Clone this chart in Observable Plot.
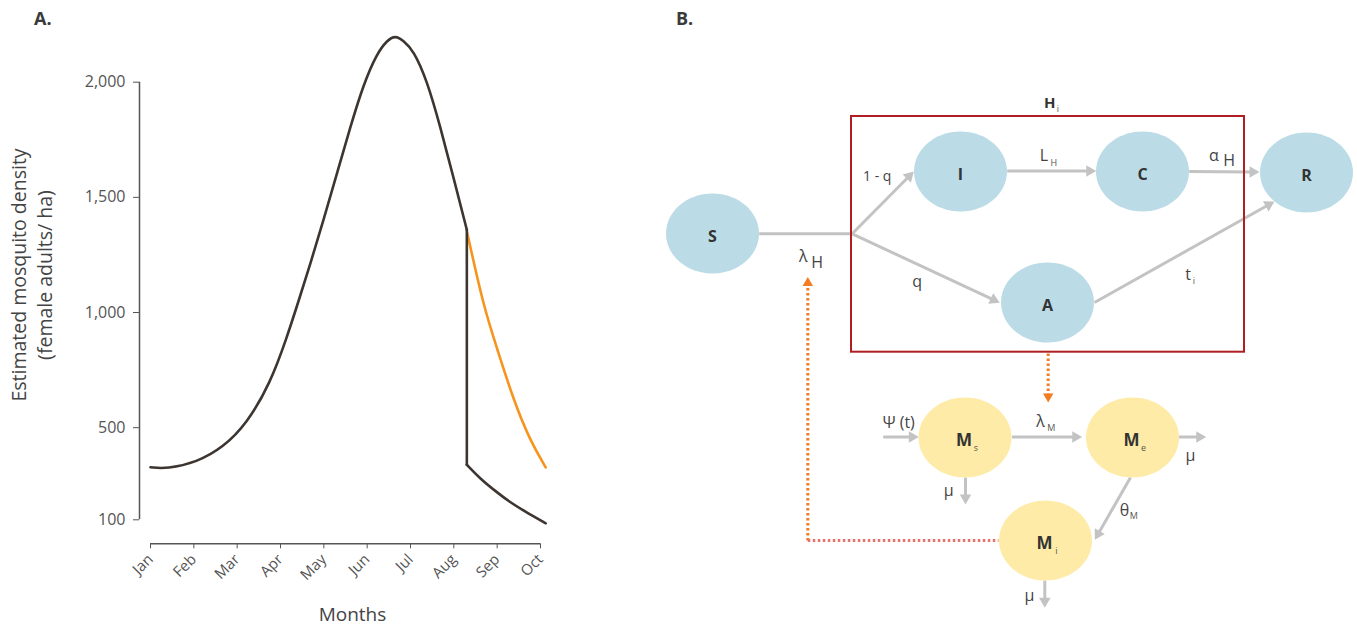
<!DOCTYPE html>
<html><head><meta charset="utf-8">
<script src="https://cdn.jsdelivr.net/npm/d3@7"></script>
<script src="https://cdn.jsdelivr.net/npm/@observablehq/plot@0.6"></script>
<style>
body{margin:0;background:#fff;}
#wrap{position:relative;width:1357px;height:633px;font-family:"Open Sans",sans-serif;overflow:hidden;}
#a,#b{position:absolute;top:0;}
#a{left:0;} #b{left:560px;}
.panel{position:absolute;font-weight:700;font-size:18px;color:#3a3a3a;line-height:20px;}
</style></head><body>
<div id="wrap">
<div id="a"></div><div id="b"></div>
<div class="panel" style="left:34px;top:8px">A.</div>
<div class="panel" style="left:676px;top:8px">B.</div>
</div>
<script>
// ---------- Panel A data ----------
const monthLabels = ["Jan","Feb","Mar","Apr","May","Jun","Jul","Aug","Sep","Oct"];
const yTicks = [100, 500, 1000, 1500, 2000];
const yTitle = ["Estimated mosquito density", "(female adults/ ha)"];
const xTitle = "Months";
// seasonal rise (month index from Jan = 0)
const riseMonth   = [0, 0.38, 1.07, 1.68, 2.22, 2.76, 3.15, 3.42, 3.69, 3.99, 4.30, 4.61, 4.92, 5.22, 5.46, 5.65, 5.84, 6.07, 6.38, 6.69, 6.99, 7.30];
const riseDensity = [328, 321, 350, 415, 517, 691, 893, 1052, 1212, 1400, 1602, 1805, 1993, 2123, 2182, 2203, 2180, 2138, 2008, 1805, 1588, 1359];
// intervention: sudden drop then decay
const dropMonth   = [7.30, 7.30];
const dropDensity = [1359, 339];
const decayMonth   = [7.30, 7.61, 7.99, 8.30, 8.61, 9.12];
const decayDensity = [339, 278, 220, 176, 140, 85];
// without intervention
const noControlMonth   = [7.31, 7.69, 7.99, 8.38, 8.76, 9.12];
const noControlDensity = [1345, 1023, 849, 618, 444, 328];

const blackRows = [
  ...riseMonth.map((m, i) => ({m, v: riseDensity[i], seg: "rise"})),
  ...dropMonth.map((m, i) => ({m, v: dropDensity[i], seg: "drop"})),
  ...decayMonth.map((m, i) => ({m, v: decayDensity[i], seg: "decay"}))
];
const orangeRows = noControlMonth.map((m, i) => ({m, v: noControlDensity[i]}));

const font = '"Open Sans", sans-serif';

const plotA = Plot.plot({
  width: 560, height: 633,
  marginLeft: 150, marginRight: 20, marginTop: 81.7, marginBottom: 113.7,
  style: {fontFamily: font, fontSize: "15px", color: "#555", background: "transparent", overflow: "visible"},
  x: {domain: [0, 9]},
  y: {domain: [100, 2000]},
  marks: [
    Plot.ruleX([0], {y1: 100, y2: 2000, dx: -11, stroke: "#555", strokeWidth: 1.5}),
    Plot.axisY({ticks: yTicks, tickFormat: d3.format(","), tickSize: 6, tickPadding: 8, dx: -11, label: null, color: "#555", fontSize: 16}),
    Plot.ruleY([100], {x1: 0, x2: 9, dy: 24, stroke: "#555", strokeWidth: 1.5}),
    Plot.axisX({ticks: d3.range(10), tickFormat: i => monthLabels[i], tickRotate: -45, tickSize: 5, tickPadding: 8, dy: 24, label: null, color: "#555", fontSize: 15}),
    Plot.text([yTitle[0]], {text: d => d, frameAnchor: "left", textAnchor: "middle", dx: -131, dy: -26, rotate: -90, fontSize: 19.5, fill: "#444"}),
    Plot.text([yTitle[1]], {text: d => d, frameAnchor: "left", textAnchor: "middle", dx: -105, dy: -26, rotate: -90, fontSize: 19.5, fill: "#444"}),
    Plot.text([xTitle], {text: d => d, frameAnchor: "bottom", dx: 7, dy: 101, fontSize: 19, fill: "#444"}),
    Plot.line(orangeRows, {x: "m", y: "v", stroke: "#f7941d", strokeWidth: 2.6, curve: "basis"}),
    Plot.line(blackRows, {x: "m", y: "v", z: "seg", stroke: "#3d3530", strokeWidth: 2.6, curve: "basis"})
  ]
});
document.getElementById("a").append(plotA);

// ---------- Panel B data (diagram layout units) ----------
const hostNodes = [
  {label: "S", x: 712, y: 233},
  {label: "I", x: 960, y: 171},
  {label: "C", x: 1142, y: 171},
  {label: "R", x: 1306, y: 172},
  {label: "A", x: 1047, y: 302}
];
const mosquitoNodes = [
  {label: "M", sub: "s", x: 964.5, y: 437},
  {label: "M", sub: "e", x: 1132, y: 437},
  {label: "M", sub: "i", x: 1045, y: 540}
];
const humanBox = [{x1: 851, x2: 1244, y1: 116, y2: 351.7}];
const plainLinks = [{x1: 758.7, y1: 233.3, x2: 851.7, y2: 233.3}];
const flowArrows = [
  {x1: 851.7, y1: 233.3, x2: 913.3, y2: 171},
  {x1: 851.7, y1: 233.3, x2: 999.3, y2: 302.3},
  {x1: 1006.7, y1: 170.5, x2: 1095.7, y2: 170.5},
  {x1: 1188.7, y1: 171, x2: 1259, y2: 171.5},
  {x1: 1094, y1: 302, x2: 1274, y2: 201},
  {x1: 882.7, y1: 436.5, x2: 918.3, y2: 436.5},
  {x1: 1011.5, y1: 436.5, x2: 1081.7, y2: 436.5},
  {x1: 1178.3, y1: 436.5, x2: 1205.7, y2: 436.5},
  {x1: 965, y1: 477, x2: 965, y2: 504},
  {x1: 1130, y1: 477, x2: 1094.3, y2: 539.3},
  {x1: 1044.3, y1: 580, x2: 1044.3, y2: 607.3}
];
const orangeDotted = [
  {x1: 807.3, y1: 540, x2: 807.3, y2: 284},
  {x1: 1047.7, y1: 353, x2: 1047.7, y2: 394}
];
const redDotted = [{x1: 807.3, y1: 540, x2: 998, y2: 540}];
const dottedHeads = [
  {x: 807.3, y: 282.5, rot: 0},
  {x: 1047.7, y: 396, rot: 180}
];
const edgeLabels = [
  {text: "1 - q", x: 876.7, y: 176, kind: "edge"},
  {text: "q", x: 916.7, y: 281, kind: "edgeL"},
  {text: "L", x: 1043.3, y: 155, kind: "edgeL"},
  {text: "H", x: 1053.3, y: 162.5, kind: "sub"},
  {text: "α", x: 1213.3, y: 155.5, kind: "edgeL"},
  {text: "H", x: 1228.7, y: 160.7, kind: "edgeL"},
  {text: "t", x: 1187.7, y: 274.5, kind: "edgeL"},
  {text: "i", x: 1193.5, y: 280.7, kind: "sub"},
  {text: "λ", x: 802.7, y: 256, kind: "edgeL"},
  {text: "H", x: 816.7, y: 262.7, kind: "edgeL"},
  {text: "Ψ (t)", x: 898.3, y: 422.7, kind: "edgeL"},
  {text: "λ", x: 1040, y: 421.7, kind: "edgeL"},
  {text: "M", x: 1050.7, y: 427.7, kind: "sub"},
  {text: "μ", x: 1190, y: 455, kind: "edgeL"},
  {text: "μ", x: 948.3, y: 490, kind: "edgeL"},
  {text: "μ", x: 1029, y: 595, kind: "edgeL"},
  {text: "θ", x: 1124, y: 510, kind: "edgeL"},
  {text: "M", x: 1133.3, y: 516, kind: "sub"},
  {text: "H", x: 1049.3, y: 102.3, kind: "title"},
  {text: "i", x: 1057.5, y: 108.3, kind: "sub"}
];

// ellipse symbol (width/height ratio of the nodes)
const ellipse = {
  draw(ctx, size) {
    const rx = Math.sqrt(size / Math.PI), ry = rx * 40 / 46.5, k = 0.5523;
    ctx.moveTo(rx, 0);
    ctx.bezierCurveTo(rx, ry * k, rx * k, ry, 0, ry);
    ctx.bezierCurveTo(-rx * k, ry, -rx, ry * k, -rx, 0);
    ctx.bezierCurveTo(-rx, -ry * k, -rx * k, -ry, 0, -ry);
    ctx.bezierCurveTo(rx * k, -ry, rx, -ry * k, rx, 0);
    ctx.closePath();
  }
};

// filled arrow heads: triangle centred just behind each arrow tip
const headR = 5.5, headTip = Math.sqrt(headR * headR * Math.PI) * 0.6824;
const shafts = flowArrows.map(a => {
  const L = Math.hypot(a.x2 - a.x1, a.y2 - a.y1), ux = (a.x2 - a.x1) / L, uy = (a.y2 - a.y1) / L;
  const cx = a.x2 - ux * headTip, cy = a.y2 - uy * headTip;
  return {x1: a.x1, y1: a.y1, x2: cx, y2: cy, hx: cx, hy: cy, rot: Math.atan2(uy, ux) * 180 / Math.PI + 90};
});

const gray = "#c3c3c3";
const plotB = Plot.plot({
  width: 797, height: 633, margin: 0,
  x: {domain: [560, 1357], range: [0, 797], axis: null},
  y: {domain: [0, 633], range: [0, 633], axis: null},
  style: {fontFamily: font, background: "transparent", overflow: "visible"},
  marks: [
    Plot.link(plainLinks, {x1: "x1", y1: "y1", x2: "x2", y2: "y2", stroke: gray, strokeWidth: 3}),
    Plot.link(shafts, {x1: "x1", y1: "y1", x2: "x2", y2: "y2", stroke: gray, strokeWidth: 3}),
    Plot.dot(shafts, {x: "hx", y: "hy", rotate: "rot", symbol: "triangle2", r: headR, fill: gray}),
    Plot.link(orangeDotted, {x1: "x1", y1: "y1", x2: "x2", y2: "y2", stroke: "#f47b20", strokeWidth: 3, strokeDasharray: "2.5,2.5"}),
    Plot.link(redDotted, {x1: "x1", y1: "y1", x2: "x2", y2: "y2", stroke: "#e5736b", strokeWidth: 3, strokeDasharray: "2.5,2.5"}),
    Plot.dot(dottedHeads, {x: "x", y: "y", rotate: "rot", symbol: "triangle2", r: 5, fill: "#f47b20"}),
    Plot.rect(humanBox, {x1: "x1", x2: "x2", y1: "y1", y2: "y2", fill: "none", stroke: "#b01e24", strokeWidth: 2}),
    Plot.dot(hostNodes, {x: "x", y: "y", r: 46.5, symbol: ellipse, fill: "#bbdbe6"}),
    Plot.dot(mosquitoNodes, {x: "x", y: "y", r: 46.5, symbol: ellipse, fill: "#feeba7"}),
    Plot.text(hostNodes, {x: "x", y: "y", dy: 3, text: "label", fontSize: 16, fontWeight: 700, fill: "#333"}),
    Plot.text(mosquitoNodes, {x: "x", y: "y", dx: -1, dy: 3, text: "label", fontSize: 17, fontWeight: 700, fill: "#333"}),
    Plot.text(mosquitoNodes, {x: "x", y: "y", dx: 11, dy: 11, text: "sub", fontSize: 9, fill: "#555"}),
    Plot.text(edgeLabels.filter(d => d.kind === "edge"), {x: "x", y: "y", text: "text", fontSize: 14, fill: "#444"}),
    Plot.text(edgeLabels.filter(d => d.kind === "edgeL"), {x: "x", y: "y", text: "text", fontSize: 16, fill: "#444"}),
    Plot.text(edgeLabels.filter(d => d.kind === "sub"), {x: "x", y: "y", text: "text", fontSize: 9, fill: "#555"}),
    Plot.text(edgeLabels.filter(d => d.kind === "title"), {x: "x", y: "y", text: "text", fontSize: 15, fontWeight: 700, fill: "#333"})
  ]
});
document.getElementById("b").append(plotB);
</script>
</body></html>
